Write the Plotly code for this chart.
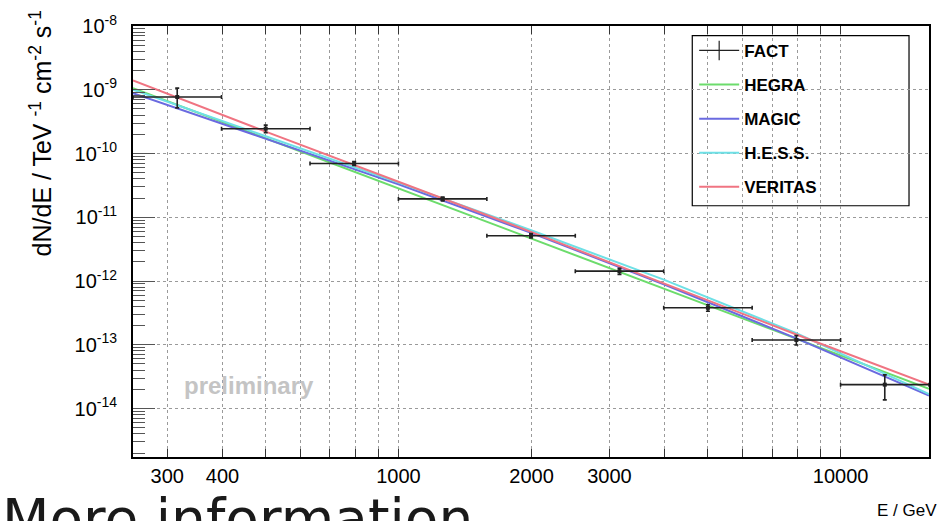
import plotly.graph_objects as go
import numpy as np

# ---- FACT spectral points (energy bins in GeV, flux in TeV^-1 cm^-2 s^-1) ----
fact_lo = [251, 398, 631, 1000, 1585, 2512, 3981, 6310, 10000]
fact_hi = [398, 631, 1000, 1585, 2512, 3981, 6310, 10000, 15849]
fact_e = [316, 501, 794, 1259, 1995, 3162, 5012, 7943, 12589]
fact_flux = [7.7e-10, 2.45e-10, 6.98e-11, 1.94e-11, 5.14e-12, 1.43e-12, 3.8e-13, 1.19e-13, 2.37e-14]
fact_err_up = [2.9e-10, 3.4e-11, 5.0e-12, 1.3e-12, 4.0e-13, 1.6e-13, 4.5e-14, 2.0e-14, 1.0e-14]
fact_err_dn = [2.5e-10, 3.2e-11, 5.0e-12, 1.3e-12, 4.0e-13, 1.6e-13, 4.5e-14, 2.0e-14, 1.0e-14]

# ---- Reference spectra ----
curve_e = [251, 501, 1000, 1995, 3981, 7943, 15849]
hegra_flux = [1.06e-9, 1.73e-10, 2.84e-11, 4.65e-12, 7.6e-13, 1.24e-13, 2.04e-14]
magic_flux = [8.8e-10, 1.72e-10, 3.30e-11, 5.70e-12, 8.9e-13, 1.26e-13, 1.6e-14]
hess_flux = [1.00e-9, 1.89e-10, 3.50e-11, 6.27e-12, 1.05e-12, 1.52e-13, 1.68e-14]
veritas_flux = [1.40e-9, 2.20e-10, 3.60e-11, 5.90e-12, 9.2e-13, 1.45e-13, 2.37e-14]

x_label_vals = [300, 400, 1000, 2000, 3000, 10000]
x_grid_vals = [500, 600, 700, 800, 900, 4000, 5000, 6000, 7000, 8000, 9000]
x_long_vals = [1000, 10000]
y_label_vals = [1e-8, 1e-9, 1e-10, 1e-11, 1e-12, 1e-13, 1e-14]
y_label_text = ["10<sup>-8</sup>", "10<sup>-9</sup>", "10<sup>-10</sup>", "10<sup>-11</sup>",
                "10<sup>-12</sup>", "10<sup>-13</sup>", "10<sup>-14</sup>"]

series = [
    ("HEGRA", hegra_flux, "#6cdc6c"),
    ("MAGIC", magic_flux, "#6a6ae0"),
    ("H.E.S.S.", hess_flux, "#6ee0e6"),
    ("VERITAS", veritas_flux, "#f07482"),
]

FONT = "Liberation Sans, Arial, sans-serif"
fig = go.Figure()

# legend-only entry for FACT (cross symbol)
fig.add_trace(go.Scatter(
    x=[None], y=[None], mode="lines+markers", name="FACT",
    line=dict(color="#222222", width=1.2),
    marker=dict(symbol="line-ns-open", size=14, color="#222222", line=dict(width=1.2, color="#222222")),
    legendgroup="fact", legendrank=1,
))

for i, (name, flux, col) in enumerate(series):
    fig.add_trace(go.Scatter(
        x=curve_e, y=flux, mode="lines", name=name,
        line=dict(color=col, width=2),
        legendgroup=name, legendrank=2 + i,
    ))

err_plus_x = [h - c for h, c in zip(fact_hi, fact_e)]
err_minus_x = [c - l for c, l in zip(fact_e, fact_lo)]
fig.add_trace(go.Scatter(
    x=fact_e, y=fact_flux, mode="markers", name="FACT", showlegend=False,
    marker=dict(symbol="square", size=4, color="#222222"),
    error_x=dict(type="data", symmetric=False, array=err_plus_x, arrayminus=err_minus_x,
                 color="#222222", thickness=1.6, width=2),
    error_y=dict(type="data", symmetric=False, array=fact_err_up, arrayminus=fact_err_dn,
                 color="#222222", thickness=1.6, width=2),
))

xr = [np.log10(fact_lo[0]), np.log10(fact_hi[-1])]

fig.update_layout(
    width=943, height=521,
    margin=dict(l=133, r=13, t=23, b=64),
    paper_bgcolor="white", plot_bgcolor="white",
    font=dict(family=FONT, color="black"),
    showlegend=True,
    legend=dict(
        x=0.705, y=0.984, xanchor="left", yanchor="top",
        bgcolor="rgba(0,0,0,0)", borderwidth=0,
        font=dict(family=FONT, size=17, color="black", weight="bold"),
        itemwidth=40, tracegroupgap=9,
    ),
    xaxis=dict(
        type="log", range=xr,
        tickmode="array", tickvals=x_label_vals, ticktext=[str(v) for v in x_label_vals],
        ticks="inside", ticklen=8, tickwidth=1, tickcolor="#333",
        showgrid=True, gridcolor="#9a9a9a", griddash="dot", gridwidth=1,
        minor=dict(tickmode="array", tickvals=x_grid_vals, ticks="inside", ticklen=8,
                   tickwidth=1, tickcolor="#333", showgrid=True, gridcolor="#9a9a9a",
                   griddash="dot", gridwidth=1),
        showline=True, linecolor="black", linewidth=2, mirror="ticks",
        tickfont=dict(size=20, family=FONT), zeroline=False,
    ),
    xaxis2=dict(
        type="log", range=xr, overlaying="x", anchor="y", side="bottom",
        tickmode="array", tickvals=x_long_vals, ticks="inside", ticklen=16,
        tickwidth=1, tickcolor="#333", showticklabels=False, showgrid=False,
        showline=False, zeroline=False,
    ),
    yaxis=dict(
        type="log", range=[-14.76, -8],
        tickmode="array", tickvals=y_label_vals, ticktext=y_label_text,
        ticks="inside", ticklen=22, tickwidth=1.3, tickcolor="#555",
        showgrid=True, gridcolor="#9a9a9a", griddash="dot", gridwidth=1,
        minor=dict(tickmode="array",
                   tickvals=[m * 10.0 ** p for p in range(-15, -8) for m in range(2, 10)],
                   ticks="inside", ticklen=12, tickwidth=1.3, tickcolor="#555", showgrid=False),
        showline=True, linecolor="black", linewidth=2, mirror=True,
        tickfont=dict(size=20, family=FONT), ticklabelstandoff=10, zeroline=False,
    ),
    shapes=[dict(type="rect", xref="paper", yref="paper",
                 x0=0.7026, x1=0.9749, y0=0.5829, y1=0.9776,
                 line=dict(color="black", width=1.2), fillcolor="white", layer="between")],
    annotations=[
        dict(text="dN/dE / TeV <sup>-1</sup> cm<sup>-2</sup> s<sup>-1</sup>", textangle=-90,
             xref="paper", yref="paper", x=-0.116, y=1.04, xanchor="center", yanchor="top",
             showarrow=False, font=dict(size=25, family=FONT, color="black")),
        dict(text="E / GeV", xref="paper", yref="paper", x=1.0125, y=-0.098,
             xanchor="right", yanchor="top", showarrow=False,
             font=dict(size=17, family=FONT, color="black")),
        dict(text="preliminary", xref="paper", yref="paper", x=0.146, y=0.167,
             xanchor="center", yanchor="middle", showarrow=False,
             font=dict(size=24, family=FONT, color="#c4c4c4", weight="bold")),
        dict(text="More information", xref="paper", yref="paper", x=-0.167, y=-0.066,
             xanchor="left", yanchor="top", showarrow=False,
             font=dict(size=55, family="DejaVu Sans, sans-serif", color="#1a1a1a")),
    ],
)

fig.write_html("out.html")
